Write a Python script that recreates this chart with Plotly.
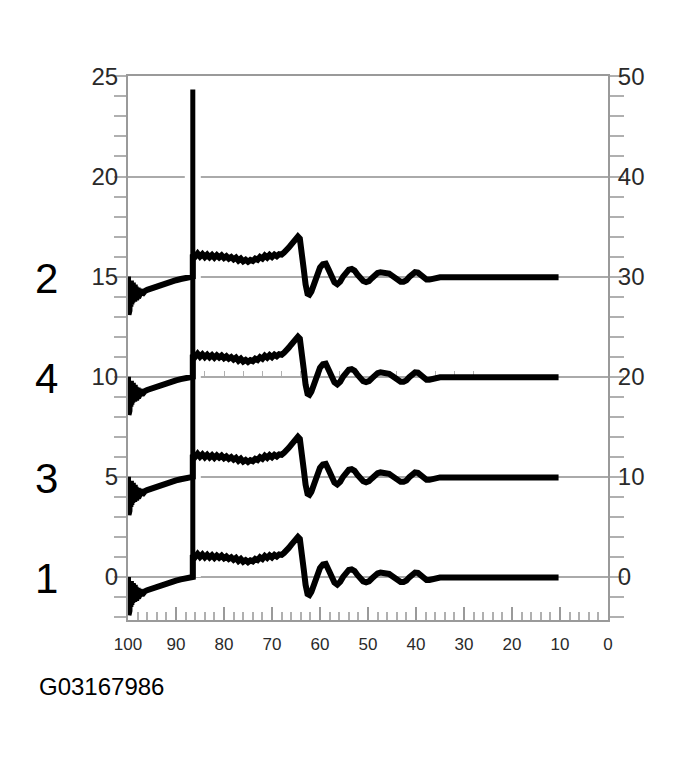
import plotly.graph_objects as go

# ---- data ----
# shape of one waveform relative to its baseline (x = percent, reversed axis)
wave_x = [100.0, 99.9, 99.8, 99.7, 99.6, 99.5, 99.4, 99.3, 99.2, 99.1, 99.0, 98.9, 98.8, 98.7, 98.6,
          98.5, 98.4, 98.3, 98.2, 98.1, 98.0, 97.9, 97.8, 97.7, 97.6, 97.5, 97.3, 97.1, 96.9, 96.5,
          96.0, 95.0, 94.0, 93.0, 92.0, 91.0, 90.0, 89.0, 88.0, 87.0, 86.5,
          86.5, 86.0, 85.5, 85.0, 84.5, 84.0, 83.5, 83.0, 82.5, 82.0, 81.5, 81.0, 80.5, 80.0, 79.5,
          79.0, 78.5, 78.0, 77.5, 77.0, 76.5, 76.0, 75.5, 75.0, 74.5, 74.0, 73.5, 73.0, 72.5, 72.0,
          71.5, 71.0, 70.5, 70.0, 69.5, 69.0, 68.5, 68.0, 67.5, 67.0, 66.5, 66.0, 65.5, 65.0, 64.6,
          64.2, 63.8, 63.4, 63.0, 62.6, 62.2, 61.8, 61.2, 60.6, 60.0, 59.4, 58.8, 58.2, 57.6, 57.0,
          56.4, 55.8, 55.2, 54.6, 54.0, 53.4, 52.8, 52.2, 51.6, 51.0, 50.4, 49.8, 49.2, 48.6, 48.0,
          47.4, 46.8, 46.2, 45.6, 45.0, 44.4, 43.8, 43.2, 42.6, 42.0, 41.4, 40.8, 40.2, 39.6, 39.0,
          38.4, 37.8, 37.2, 36.6, 36.0, 35.0, 10.3]
wave_y = [0.0, -1.9, -0.1, -1.7, -0.3, -1.5, -0.2, -1.4, -0.4, -1.3, -0.3, -1.2, -0.5, -1.25, -0.4,
          -1.1, -0.5, -1.15, -0.5, -1.0, -0.55, -1.05, -0.6, -0.95, -0.6, -0.9, -0.7, -0.9, -0.8, -0.72,
          -0.66, -0.57, -0.48, -0.4, -0.32, -0.25, -0.18, -0.12, -0.07, -0.02, 0.0,
          1.1, 1.0, 1.15, 1.0, 1.12, 0.98, 1.1, 0.97, 1.08, 0.95, 1.07, 0.96, 1.06, 0.93, 1.02,
          0.9, 0.98, 0.86, 0.95, 0.8, 0.9, 0.76, 0.84, 0.74, 0.83, 0.78, 0.9, 0.84, 0.98, 0.9,
          1.05, 0.95, 1.08, 0.98, 1.1, 1.02, 1.12, 1.1, 1.2, 1.3, 1.45, 1.6, 1.78, 1.92, 2.0,
          1.9, 1.3, 0.4, -0.4, -0.85, -0.9, -0.75, -0.35, 0.1, 0.45, 0.62, 0.65, 0.35, 0.0, -0.28,
          -0.38, -0.25, 0.0, 0.22, 0.35, 0.38, 0.3, 0.1, -0.1, -0.22, -0.27, -0.22, -0.08, 0.07, 0.18,
          0.22, 0.22, 0.2, 0.15, 0.05, -0.08, -0.18, -0.25, -0.25, -0.18, -0.02, 0.12, 0.22, 0.2, 0.05,
          -0.08, -0.15, -0.15, -0.1, -0.05, -0.03, -0.03]

channel_labels = ["1", "3", "4", "2"]
channel_offsets = [0, 5, 10, 15]

spike_x = [86.5, 86.5]
spike_y = [0.0, 24.35]

left_ticks = [0, 5, 10, 15, 20, 25]
right_ticks = [0, 10, 20, 30, 40, 50]
bottom_ticks = [100, 90, 80, 70, 60, 50, 40, 30, 20, 10, 0]
figure_id = "G03167986"

# ---- figure ----
fig = go.Figure()

# white halo around the spike (hides gridlines next to it)
fig.add_trace(go.Scatter(x=spike_x, y=spike_y, mode="lines",
                         line=dict(color="white", width=16), hoverinfo="skip", showlegend=False))

for lab, off in zip(channel_labels, channel_offsets):
    fig.add_trace(go.Scatter(x=wave_x, y=[v + off for v in wave_y], mode="lines", name=lab,
                             line=dict(color="black", width=6, shape="linear"),
                             showlegend=False))

fig.add_trace(go.Scatter(x=spike_x, y=spike_y, mode="lines",
                         line=dict(color="black", width=5), showlegend=False))

# empty traces so the secondary axes get drawn
fig.add_trace(go.Scatter(x=[], y=[], yaxis="y2", mode="lines", hoverinfo="skip", showlegend=False))
fig.add_trace(go.Scatter(x=[], y=[], xaxis="x2", mode="lines", hoverinfo="skip", showlegend=False))

YMIN, YMAX = -2.15, 25.02
GRID = "#aaaaaa"
AX = "#9a9a9a"
LBL = "#2a2a2a"
FONT = "Liberation Sans, Arial, sans-serif"

fig.update_layout(
    width=680, height=770,
    margin=dict(l=120, r=80, t=68, b=158),
    paper_bgcolor="white", plot_bgcolor="white",
    showlegend=False,
    xaxis=dict(range=[100, 0], tickvals=bottom_ticks, ticktext=[str(t) for t in bottom_ticks],
               showline=True, linecolor=AX, linewidth=2, mirror=True,
               ticks="inside", ticklen=13, tickwidth=2, tickcolor=AX,
               minor=dict(dtick=2, ticks="inside", ticklen=8, tickwidth=2, tickcolor="#b0b0b0"),
               showgrid=False, zeroline=False,
               tickfont=dict(family=FONT, size=17, color=LBL), ticklabelstandoff=8),
    xaxis2=dict(range=[100, 0], overlaying="x", anchor="free",
                position=(10 - YMIN) / (YMAX - YMIN), side="top",
                showline=True, linecolor=GRID, linewidth=2, layer="below traces",
                ticks="outside", tickvals=[84, 80, 76, 72, 68, 64, 60, 56, 52, 48, 44, 40, 36, 32, 28],
                ticklen=5, tickwidth=1, tickcolor="#b0b0b0",
                showticklabels=False, showgrid=False, zeroline=False),
    yaxis=dict(range=[YMIN, YMAX], tickvals=left_ticks, ticktext=[str(t) for t in left_ticks],
               showline=True, linecolor=AX, linewidth=2,
               ticks="", showgrid=True, gridcolor=GRID, gridwidth=2, zeroline=False,
               minor=dict(dtick=1, ticks="outside", ticklen=12, tickwidth=2, tickcolor="#b0b0b0",
                          showgrid=False),
               tickfont=dict(family=FONT, size=24, color=LBL), ticklabelstandoff=3),
    yaxis2=dict(range=[2 * YMIN, 2 * YMAX], overlaying="y", side="right", anchor="x",
                tickvals=right_ticks, ticktext=[str(t) for t in right_ticks],
                showline=True, linecolor=AX, linewidth=2,
                ticks="", showgrid=False, zeroline=False,
                minor=dict(dtick=2, ticks="outside", ticklen=14, tickwidth=2, tickcolor="#b0b0b0"),
                tickfont=dict(family=FONT, size=24, color=LBL), ticklabelstandoff=3),
)

for lab, off in zip(channel_labels, channel_offsets):
    fig.add_annotation(text=lab, xref="paper", yref="y", x=-0.169, y=off, yshift=-2,
                       showarrow=False, xanchor="center", yanchor="middle",
                       font=dict(family=FONT, size=42, color="black"))

fig.add_annotation(text=figure_id, xref="paper", yref="paper", x=-0.19, y=-0.123,
                   showarrow=False, xanchor="left", yanchor="middle",
                   font=dict(family=FONT, size=24, color="black"))

fig.write_html("out.html")
